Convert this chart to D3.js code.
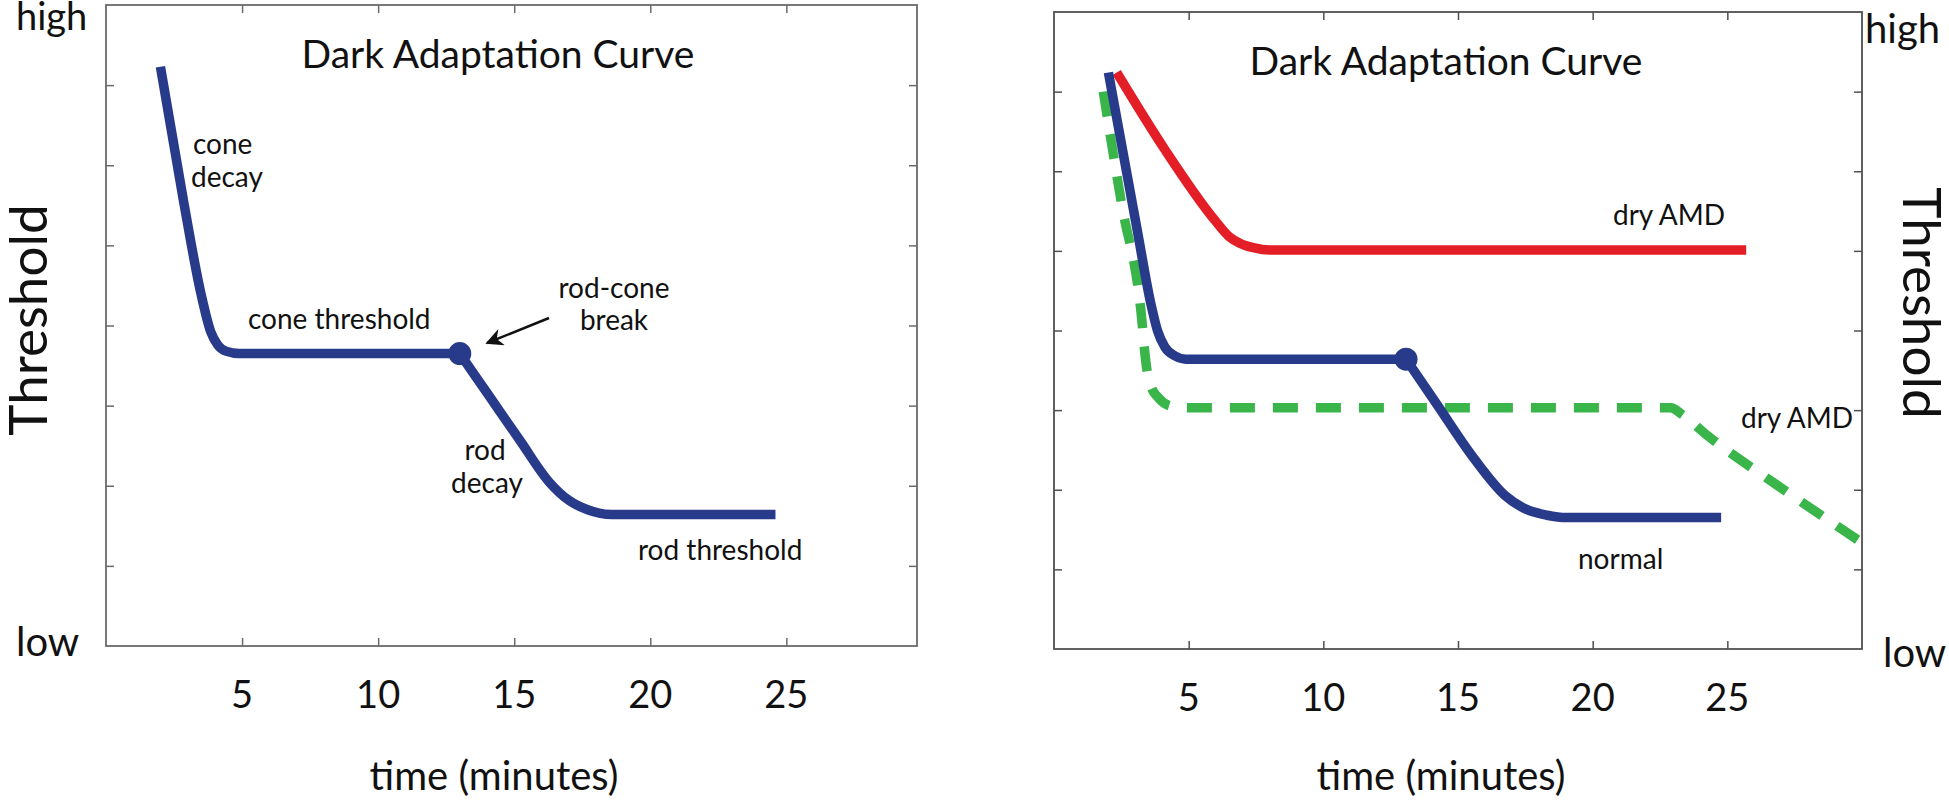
<!DOCTYPE html>
<html>
<head>
<meta charset="utf-8">
<script src="https://cdn.jsdelivr.net/npm/d3@7/dist/d3.min.js"></script>
<style>
  html, body { margin: 0; padding: 0; background: #fff; }
  svg { display: block; }
  text { font-family: Lato, "Open Sans", sans-serif; fill: #111; }
</style>
</head>
<body>
<svg id="chart" width="1949" height="802"></svg>
<script>
// ---------- data ----------
const xTicks = [5, 10, 15, 20, 25];
const yTicks = [1, 2, 3, 4, 5, 6, 7];
const titleText = "Dark Adaptation Curve";
const xLabel = "time (minutes)";
const yLabel = "Threshold";

// Left panel: normal curve
const leftConeTime = [2.0, 2.85, 3.5, 3.85, 4.1, 4.4, 4.9, 13.0];
const leftConeThreshold = [7.23, 5.55, 4.38, 3.92, 3.76, 3.68, 3.65, 3.65];
const leftRodTime = [13.0, 14.1, 15.2, 16.3, 17.0, 17.7, 18.6, 24.6];
const leftRodThreshold = [3.65, 3.11, 2.57, 2.04, 1.82, 1.70, 1.64, 1.64];
const leftBreak = [13.0, 3.65];

// Right panel: normal curve
const normalConeTime = [2.02, 3.09, 3.6, 3.85, 4.12, 4.5, 4.9, 13.07];
const normalConeThreshold = [7.24, 5.26, 4.33, 3.99, 3.79, 3.68, 3.64, 3.64];
const normalRodTime = [13.07, 14.22, 15.6, 16.74, 17.5, 18.3, 19.03, 24.77];
const normalRodThreshold = [3.64, 3.07, 2.39, 1.93, 1.76, 1.68, 1.65, 1.65];
const normalBreak = [13.07, 3.64];

// Right panel: dry AMD (red)
const dryRedTime = [2.33, 4.12, 5.96, 6.5, 6.88, 7.4, 8.02, 25.7];
const dryRedThreshold = [7.24, 6.27, 5.39, 5.18, 5.10, 5.04, 5.01, 5.01];

// Right panel: dry AMD (green dashed)
const dryGreenTime = [1.83, 2.51, 3.21, 3.44, 3.6, 3.89, 4.35, 5.0, 22.9, 23.3, 24.3, 26.84, 29.93];
const dryGreenThreshold = [7.0, 5.59, 4.30, 3.53, 3.3, 3.15, 3.05, 3.03, 3.03, 2.95, 2.67, 2.06, 1.35];

// ---------- drawing ----------
const svg = d3.select("#chart");
const BLUE = "#283a8a", RED = "#e31e26", GREEN = "#39b54a";

svg.append("defs").append("marker")
  .attr("id", "arrow").attr("viewBox", "0 0 10 10")
  .attr("refX", 9).attr("refY", 5)
  .attr("markerWidth", 7).attr("markerHeight", 7)
  .attr("markerUnits", "strokeWidth")
  .attr("orient", "auto")
  .append("path").attr("d", "M0,0 L10,5 L0,10 L3,5 Z").attr("fill", "#111");

function panel(opt) {
  const x = d3.scaleLinear().domain([0, opt.xMax]).range([opt.left, opt.right]);
  const y = d3.scaleLinear().domain([0, 8]).range([opt.bottom, opt.top]);
  const g = svg.append("g");
  const tl = 8;
  g.append("g").attr("transform", `translate(0,${opt.bottom})`)
    .call(d3.axisBottom(x).tickValues(xTicks).tickSize(-tl).tickFormat(""));
  g.append("g").attr("transform", `translate(0,${opt.top})`)
    .call(d3.axisTop(x).tickValues(xTicks).tickSize(-tl).tickFormat(""));
  g.append("g").attr("transform", `translate(${opt.left},0)`)
    .call(d3.axisLeft(y).tickValues(yTicks).tickSize(-tl).tickFormat(""));
  g.append("g").attr("transform", `translate(${opt.right},0)`)
    .call(d3.axisRight(y).tickValues(yTicks).tickSize(-tl).tickFormat(""));
  g.selectAll(".domain").remove();
  g.selectAll(".tick line").attr("stroke", opt.frame).attr("stroke-width", 1.5);
  g.append("rect").attr("x", opt.left).attr("y", opt.top)
    .attr("width", opt.right - opt.left).attr("height", opt.bottom - opt.top)
    .attr("fill", "none").attr("stroke", opt.frame).attr("stroke-width", 1.8);

  g.selectAll(".xl").data(xTicks).enter().append("text")
    .attr("x", d => x(d)).attr("y", opt.bottom + 62)
    .attr("text-anchor", "middle").attr("font-size", 38).text(d => d);

  g.append("text").attr("x", opt.titleX).attr("y", opt.titleY)
    .attr("text-anchor", "middle").attr("font-size", 39).text(titleText);
  g.append("text").attr("x", opt.xLabelX).attr("y", 790)
    .attr("text-anchor", "middle").attr("font-size", 40).text(xLabel);
  return {x, y, g};
}

function drawLine(p, xs, ys, color, dash) {
  const pts = xs.map((t, i) => [t, ys[i]]);
  const line = d3.line().x(d => p.x(d[0])).y(d => p.y(d[1])).curve(d3.curveMonotoneX);
  const path = p.g.append("path").attr("d", line(pts))
    .attr("fill", "none").attr("stroke", color).attr("stroke-width", 9.5)
    .attr("stroke-linejoin", "round");
  if (dash) path.attr("stroke-dasharray", dash);
  return path;
}

// ----- Left panel -----
const L = panel({left: 106, right: 917, top: 5, bottom: 646, xMax: 29.8,
  frame: "#6a6a6a", titleX: 498, titleY: 68, xLabelX: 494});
drawLine(L, leftConeTime, leftConeThreshold, BLUE);
drawLine(L, leftRodTime, leftRodThreshold, BLUE);
L.g.append("circle").attr("cx", L.x(leftBreak[0])).attr("cy", L.y(leftBreak[1]))
  .attr("r", 11.5).attr("fill", BLUE);

svg.append("text").attr("x", 16).attr("y", 30).attr("font-size", 38).text("high");
svg.append("text").attr("x", 16).attr("y", 656).attr("font-size", 40).text("low");
svg.append("text").attr("transform", "translate(47,320) rotate(-90)")
  .attr("text-anchor", "middle").attr("font-size", 53).text(yLabel);

const ann = [
  {t: "cone", x: 193, y: 154, a: "start"},
  {t: "decay", x: 191, y: 187, a: "start"},
  {t: "cone threshold", x: 248, y: 329, a: "start"},
  {t: "rod-cone", x: 614, y: 298, a: "middle"},
  {t: "break", x: 614, y: 330, a: "middle"},
  {t: "rod", x: 485, y: 460, a: "middle"},
  {t: "decay", x: 487, y: 493, a: "middle"},
  {t: "rod threshold", x: 638, y: 560, a: "start"}
];
svg.selectAll(".ann").data(ann).enter().append("text")
  .attr("x", d => d.x).attr("y", d => d.y).attr("text-anchor", d => d.a)
  .attr("font-size", 28).text(d => d.t);
svg.append("line").attr("x1", 549).attr("y1", 318).attr("x2", 487).attr("y2", 343)
  .attr("stroke", "#111").attr("stroke-width", 2.5).attr("marker-end", "url(#arrow)");

// ----- Right panel -----
const R = panel({left: 1054, right: 1862, top: 12, bottom: 649, xMax: 30,
  frame: "#505050", titleX: 1446, titleY: 75, xLabelX: 1441});
drawLine(R, dryRedTime, dryRedThreshold, RED);
drawLine(R, dryGreenTime, dryGreenThreshold, GREEN, "25,18");
drawLine(R, normalConeTime, normalConeThreshold, BLUE);
drawLine(R, normalRodTime, normalRodThreshold, BLUE);
R.g.append("circle").attr("cx", R.x(normalBreak[0])).attr("cy", R.y(normalBreak[1]))
  .attr("r", 11.5).attr("fill", BLUE);

svg.append("text").attr("x", 1865).attr("y", 43).attr("font-size", 40).text("high");
svg.append("text").attr("x", 1883).attr("y", 667).attr("font-size", 40).text("low");
svg.append("text").attr("transform", "translate(1903,303) rotate(90)")
  .attr("text-anchor", "middle").attr("font-size", 53).text(yLabel);

const annR = [
  {t: "dry AMD", x: 1613, y: 225},
  {t: "dry AMD", x: 1741, y: 428},
  {t: "normal", x: 1578, y: 569}
];
svg.selectAll(".annR").data(annR).enter().append("text")
  .attr("x", d => d.x).attr("y", d => d.y).attr("font-size", 28).text(d => d.t);
</script>
</body>
</html>
